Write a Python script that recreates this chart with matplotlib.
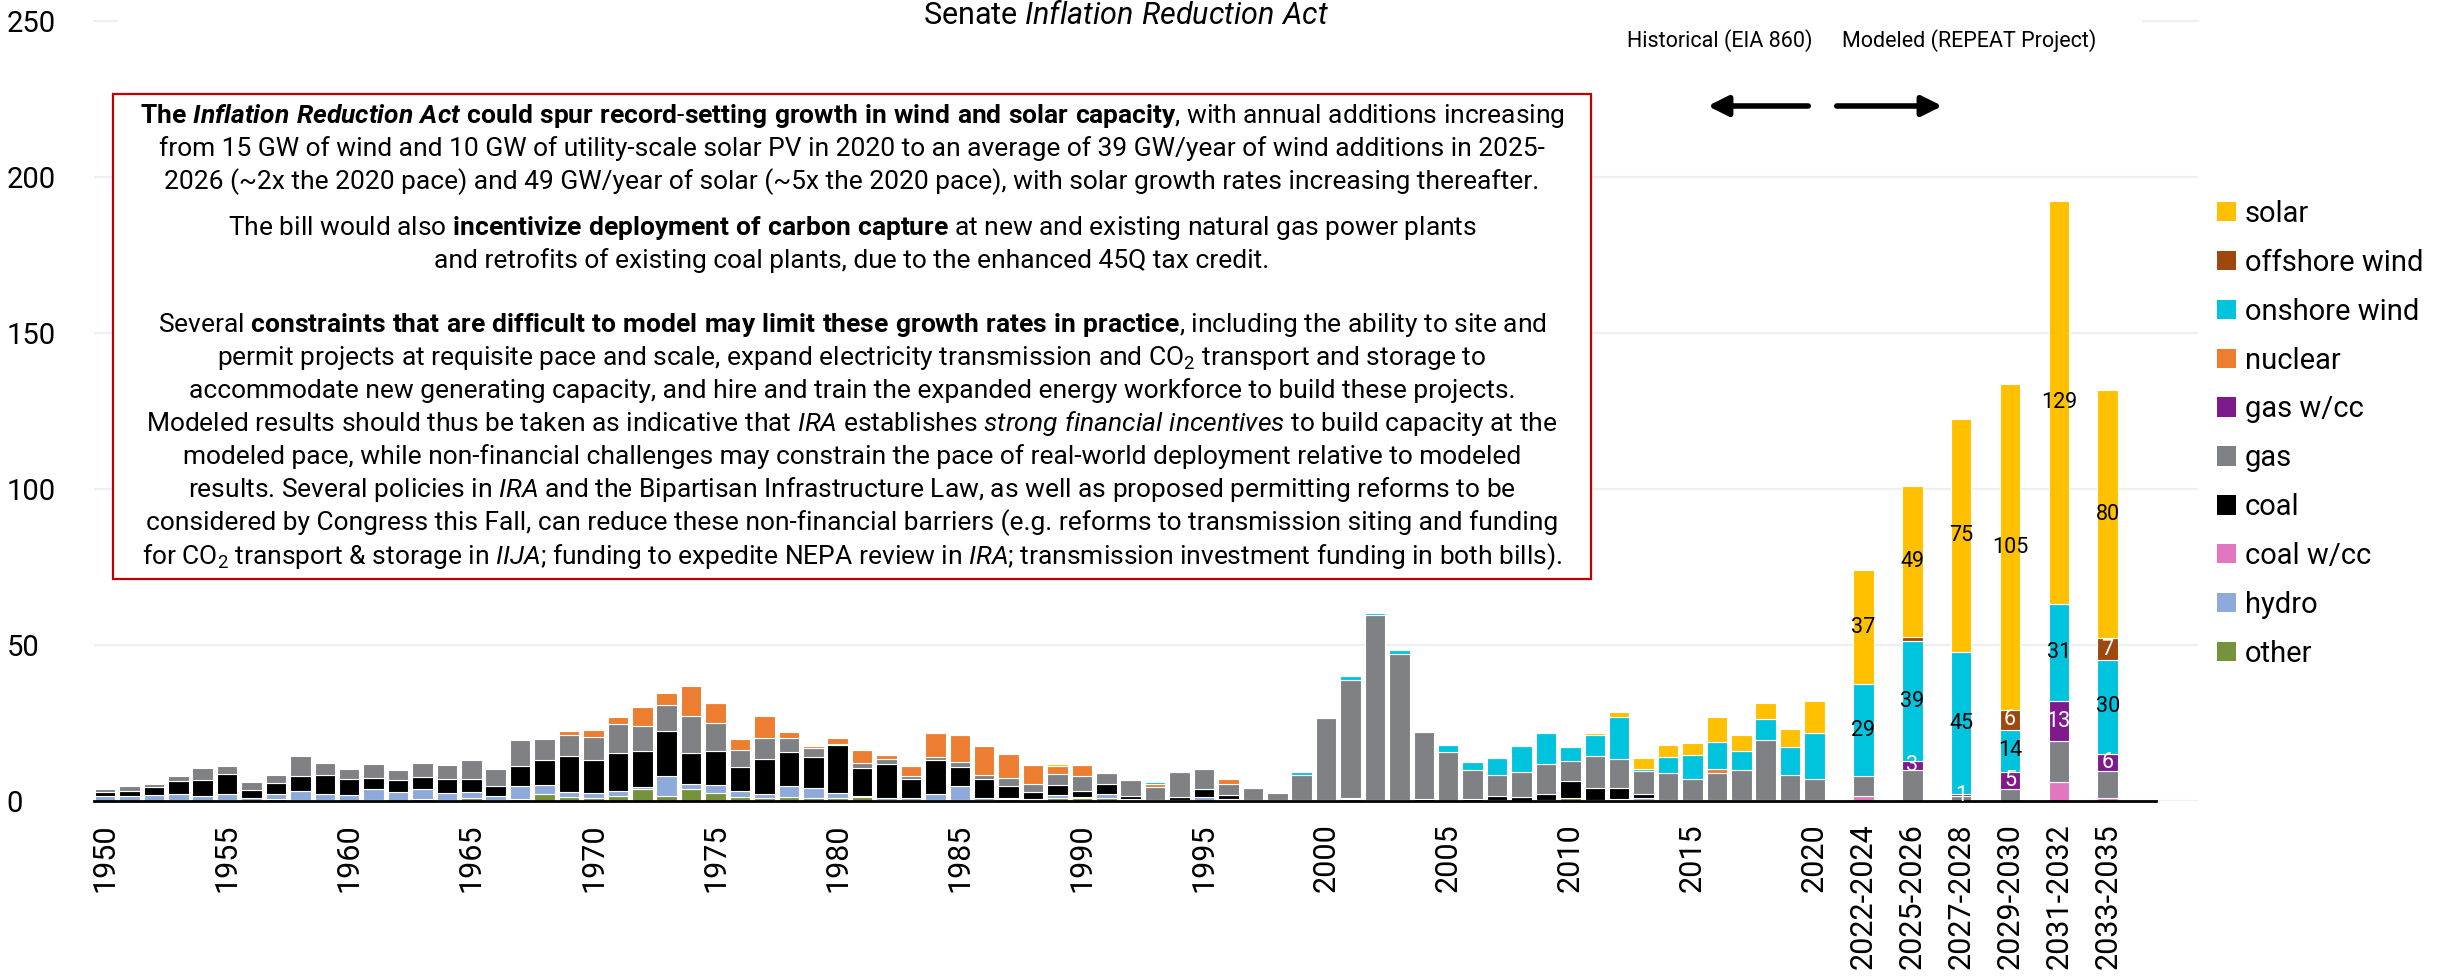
import numpy as np
import matplotlib
matplotlib.use("Agg")
import matplotlib.pyplot as plt
from matplotlib.patches import Patch, Rectangle, FancyArrowPatch

plt.rcParams['font.family'] = ['Roboto', 'DejaVu Sans']
plt.rcParams['mathtext.fontset'] = 'custom'
plt.rcParams['mathtext.rm'] = 'Roboto'
plt.rcParams['mathtext.it'] = 'Roboto:italic'
plt.rcParams['mathtext.bf'] = 'Roboto:bold'
plt.rcParams['mathtext.bfit'] = 'Roboto:italic:bold'

# ---- data: annual capacity additions (GW) ----
hist_years = list(range(1950, 2021))

other_h = [
    0.1, 0.1, 0.1, 0.2, 0.1, 0.2, 0.1, 0.7, 0.2, 0.2,
    0.1, 0.2, 0.1, 0.5, 0.2, 0.9, 0.3, 0.5, 2.1, 1.2,
    0.9, 1.5, 3.7, 1.5, 3.8, 2.5, 1.2, 0.9, 1.2, 0.9,
    0.9, 1.3, 0.4, 0.2, 0.2, 0.4, 0.3, 0.5, 0.3, 1.0,
    1.0, 1.0, 0.4, 0.2, 0.2, 0.1, 0.4, 0.1, 0.3, 0.3,
    0.4, 0.5, 0.2, 0.3, 0.1, 0.1, 0.1, 0.2, 0.1, 0.2,
    0.9, 0.4, 0.2, 0.4, 0.1, 0.1, 0.1, 0.1, 0.1, 0.1,
    0.1]
hydro_h = [
    1.4, 1.4, 1.8, 2.2, 1.4, 2.0, 1.0, 1.5, 3.1, 2.0,
    1.8, 3.6, 2.7, 3.5, 2.5, 2.1, 1.3, 4.2, 3.0, 1.8,
    1.6, 1.6, 0.7, 6.4, 1.6, 2.6, 1.9, 1.4, 3.5, 3.4,
    1.6, 0.4, 0.7, 0.9, 2.0, 4.3, 0.6, 0.4, 0.4, 0.9,
    0.4, 1.3, 0.1, 0.2, 0.1, 1.1, 0.1, 0.1, 0.0, 0.0,
    0.0, 0.0, 0.1, 0.0, 0.0, 0.0, 0.0, 0.0, 0.0, 0.1,
    0.0, 0.0, 0.4, 0.6, 0.1, 0.1, 0.1, 0.1, 0.1, 0.1,
    0.3]
coal_h = [
    1.5, 1.8, 2.6, 4.0, 5.1, 6.4, 2.3, 3.5, 4.7, 6.2,
    5.0, 3.6, 3.8, 3.8, 4.5, 4.1, 3.3, 6.6, 8.2, 11.3,
    10.6, 12.2, 11.7, 14.6, 10.1, 10.8, 7.8, 11.1, 10.9, 9.8,
    15.5, 8.9, 10.7, 6.1, 11.1, 6.1, 6.1, 4.0, 2.1, 3.2,
    1.9, 3.3, 1.1, 0.0, 1.1, 2.6, 1.3, 0.0, 0.0, 0.0,
    0.0, 0.4, 0.0, 0.0, 0.4, 0.0, 0.4, 1.3, 1.3, 2.1,
    5.5, 3.8, 3.5, 1.4, 0.0, 0.0, 0.0, 0.0, 0.0, 0.0,
    0.0]
gas_h = [
    1.0, 1.4, 1.1, 1.7, 4.1, 2.6, 2.7, 2.5, 6.3, 3.8,
    3.5, 4.6, 3.3, 4.4, 4.3, 6.2, 5.2, 8.3, 6.7, 6.7,
    7.5, 9.4, 7.8, 8.2, 11.6, 9.0, 5.4, 6.8, 4.6, 2.9,
    0.2, 1.6, 1.7, 0.7, 0.7, 1.8, 1.4, 2.5, 2.7, 3.7,
    4.7, 3.3, 5.2, 4.2, 7.9, 6.4, 3.8, 4.0, 2.2, 8.1,
    26.1, 37.8, 59.2, 46.7, 21.5, 15.5, 9.4, 6.9, 8.0, 9.4,
    6.4, 10.1, 9.5, 7.1, 8.9, 6.7, 8.8, 9.7, 19.2, 8.1,
    6.7]
nuclear_h = [
    0.0, 0.0, 0.0, 0.0, 0.0, 0.0, 0.0, 0.0, 0.0, 0.0,
    0.0, 0.0, 0.0, 0.0, 0.0, 0.0, 0.0, 0.0, 0.0, 1.3,
    2.0, 2.1, 6.1, 3.8, 9.7, 6.5, 3.6, 7.1, 2.0, 0.7,
    2.0, 4.2, 1.1, 3.4, 7.9, 8.4, 9.2, 7.7, 5.9, 2.5,
    3.4, 0.0, 0.0, 1.0, 0.0, 0.0, 1.4, 0.0, 0.0, 0.0,
    0.0, 0.0, 0.0, 0.0, 0.0, 0.0, 0.0, 0.0, 0.0, 0.0,
    0.0, 0.0, 0.0, 0.0, 0.0, 0.0, 1.2, 0.0, 0.0, 0.0,
    0.0]
wind_h = [
    0.0, 0.0, 0.0, 0.0, 0.0, 0.0, 0.0, 0.0, 0.0, 0.0,
    0.0, 0.0, 0.0, 0.0, 0.0, 0.0, 0.0, 0.0, 0.0, 0.0,
    0.0, 0.0, 0.0, 0.0, 0.0, 0.1, 0.0, 0.0, 0.0, 0.0,
    0.0, 0.3, 0.3, 0.3, 0.3, 0.4, 0.2, 0.2, 0.0, 0.0,
    0.0, 0.3, 0.2, 0.4, 0.3, 0.2, 0.0, 0.2, 0.0, 0.8,
    0.2, 1.5, 0.8, 1.5, 0.4, 2.2, 2.5, 5.3, 8.3, 9.9,
    4.6, 6.7, 13.3, 0.9, 5.0, 8.0, 8.6, 6.1, 6.9, 9.1,
    14.7]
solar_h = [
    0.0, 0.0, 0.0, 0.0, 0.0, 0.0, 0.0, 0.0, 0.0, 0.0,
    0.0, 0.0, 0.0, 0.0, 0.0, 0.0, 0.0, 0.0, 0.0, 0.0,
    0.0, 0.0, 0.0, 0.0, 0.0, 0.0, 0.0, 0.0, 0.0, 0.0,
    0.0, 0.0, 0.0, 0.0, 0.1, 0.2, 0.3, 0.2, 0.3, 0.4,
    0.4, 0.0, 0.0, 0.0, 0.0, 0.0, 0.0, 0.0, 0.2, 0.2,
    0.0, 0.2, 0.2, 0.2, 0.0, 0.2, 0.2, 0.2, 0.2, 0.2,
    0.3, 0.9, 1.7, 3.5, 3.8, 3.7, 8.0, 5.1, 5.0, 5.7,
    10.3]

model_periods = ['2022-2024', '2025-2026', '2027-2028', '2029-2030', '2031-2032', '2033-2035']
coal_cc_m = [1.6, 0.0, 0.0, 0.0, 6.1, 0.9]
gas_m = [6.4, 9.8, 1.5, 4.0, 13.0, 8.6]
gas_cc_m = [0.0, 2.9, 0.8, 5.3, 12.9, 5.6]
wind_m = [29.4, 38.6, 45.3, 13.6, 31.0, 30.2]
offshore_m = [0.0, 1.2, 0.0, 6.2, 0.0, 6.8]
solar_m = [36.7, 48.6, 74.8, 104.6, 129.4, 79.7]

# stacking order, bottom to top
series = ['other', 'hydro', 'coal w/cc', 'coal', 'gas', 'gas w/cc',
          'nuclear', 'onshore wind', 'offshore wind', 'solar']
colors = {
    'solar': '#FFC000',
    'offshore wind': '#9E480E',
    'onshore wind': '#00C4DE',
    'nuclear': '#ED7D31',
    'gas w/cc': '#7F1A8D',
    'gas': '#808184',
    'coal': '#000000',
    'coal w/cc': '#E277C0',
    'hydro': '#8EAADB',
    'other': '#76933C',
}
# modeled-bar labels: min value to show, text colour
label_rules = {
    'solar': (1, 'black'),
    'onshore wind': (1, 'black'),
    'offshore wind': (2, 'white'),
    'gas w/cc': (0.5, 'white'),
}

n_h = len(hist_years)
n_m = len(model_periods)
zeros_h = [0.0] * n_h
zeros_m = [0.0] * n_m
values = {
    'other': other_h + zeros_m,
    'hydro': hydro_h + zeros_m,
    'coal w/cc': zeros_h + coal_cc_m,
    'coal': coal_h + zeros_m,
    'gas': gas_h + gas_m,
    'gas w/cc': zeros_h + gas_cc_m,
    'nuclear': nuclear_h + zeros_m,
    'onshore wind': wind_h + wind_m,
    'offshore wind': zeros_h + offshore_m,
    'solar': solar_h + solar_m,
}

x = np.concatenate([np.arange(n_h), n_h + 1 + 2 * np.arange(n_m)])
is_model = np.array([False] * n_h + [True] * n_m)

W, H = 2453, 977


def fx(px):
    return px / W


def fy(py):
    return 1 - py / H


fig = plt.figure(figsize=(W / 100, H / 100), dpi=100)
ax = fig.add_axes([fx(94), fy(801), fx(2198) - fx(94), fy(21) - fy(801)])

bottom = np.zeros(len(x))
for name in series:
    v = np.array(values[name])
    m = v > 0
    ax.bar(x[m], v[m], width=0.84, bottom=bottom[m], color=colors[name],
           edgecolor='white', linewidth=0.8, zorder=2)
    if name in label_rules:
        vmin, tc = label_rules[name]
        for xi, b, vi, mod in zip(x, bottom, v, is_model):
            if mod and vi >= vmin:
                ax.text(xi, b + vi / 2, f"{round(vi)}", ha='center', va='center',
                        fontsize=15.5, color=tc, zorder=3)
    bottom += v

ax.set_xlim(-0.45, 85.7)
ax.set_ylim(0, 250)

ax.set_yticks(range(0, 251, 50))
ax.tick_params(axis='y', length=0, pad=63, labelsize=21)
for lab in ax.get_yticklabels():
    lab.set_horizontalalignment('left')
ax.yaxis.grid(True, color='#EFEFEF', linewidth=1.6, zorder=0)
ax.set_axisbelow(True)
ax.get_ygridlines()[-1].set_visible(False)
ax.axhline(250, xmin=0, xmax=0.011, color='#EFEFEF', lw=1.6, clip_on=False)
ax.axhline(250, xmin=0.974, xmax=1, color='#EFEFEF', lw=1.6, clip_on=False)

tick_pos = list(range(0, n_h, 5)) + list(x[is_model])
tick_lab = [str(hist_years[i]) for i in range(0, n_h, 5)] + model_periods
ax.set_xticks(tick_pos)
ax.set_xticklabels(tick_lab, rotation=90)
ax.tick_params(axis='x', length=0, pad=16, labelsize=22)

for s in ['top', 'right', 'left']:
    ax.spines[s].set_visible(False)
ax.spines['bottom'].set_bounds(-0.45, 84)
ax.spines['bottom'].set_linewidth(2)
ax.spines['bottom'].set_color('black')

handles = [Patch(facecolor=colors[n]) for n in series[::-1]]
ax.legend(handles, series[::-1], loc='upper left',
          bbox_to_anchor=(fx(2217), fy(200)), bbox_transform=fig.transFigure,
          frameon=False, fontsize=21, handlelength=0.65, handleheight=0.65,
          handletextpad=0.3, labelspacing=0.715, borderpad=0, borderaxespad=0)

# title at the very top
fig.text(fx(1126), fy(24), r"Senate $\mathit{Inflation\ Reduction\ Act}$",
         ha='center', va='baseline', fontsize=22)

# historical / modeled markers
fig.text(fx(1720), fy(41), "Historical (EIA 860)", ha='center', va='center', fontsize=15.5)
fig.text(fx(1969), fy(41), "Modeled (REPEAT Project)", ha='center', va='center', fontsize=15.5)
for a, b in [((1811, 106), (1705, 106)), ((1834, 106), (1945, 106))]:
    fig.add_artist(FancyArrowPatch((fx(a[0]), fy(a[1])), (fx(b[0]), fy(b[1])),
                                   transform=fig.transFigure, arrowstyle='-|>',
                                   mutation_scale=30, lw=4, color='black'))

# annotation box
fig.add_artist(Rectangle((fx(113), fy(579)), fx(1591) - fx(113), fy(94) - fy(579),
                         transform=fig.transFigure, facecolor='white',
                         edgecolor='#C00000', lw=1.6, zorder=1))

box_lines = [
    (116, r"$\mathbf{The\ }\mathbfit{Inflation\ Reduction\ Act}\mathbf{\ could\ spur\ record}$-$\mathbf{setting\ growth\ in\ wind\ and\ solar\ capacity}$, with annual additions increasing"),
    (149, "from 15 GW of wind and 10 GW of utility-scale solar PV in 2020 to an average of 39 GW/year of wind additions in 2025-"),
    (182, "2026 (~2x the 2020 pace) and 49 GW/year of solar (~5x the 2020 pace), with solar growth rates increasing thereafter."),
    (228, r"The bill would also $\mathbf{incentivize\ deployment\ of\ carbon\ capture}$ at new and existing natural gas power plants"),
    (261, "and retrofits of existing coal plants, due to the enhanced 45Q tax credit."),
    (325, r"Several $\mathbf{constraints\ that\ are\ difficult\ to\ model\ may\ limit\ these\ growth\ rates\ in\ practice}$, including the ability to site and"),
    (358, r"permit projects at requisite pace and scale, expand electricity transmission and CO$_2$ transport and storage to"),
    (391, "accommodate new generating capacity, and hire and train the expanded energy workforce to build these projects."),
    (424, r"Modeled results should thus be taken as indicative that $\mathit{IRA}$ establishes $\mathit{strong\ financial\ incentives}$ to build capacity at the"),
    (457, "modeled pace, while non-financial challenges may constrain the pace of real-world deployment relative to modeled"),
    (490, r"results. Several policies in $\mathit{IRA}$ and the Bipartisan Infrastructure Law, as well as proposed permitting reforms to be"),
    (523, "considered by Congress this Fall, can reduce these non-financial barriers (e.g. reforms to transmission siting and funding"),
    (557, r"for CO$_2$ transport & storage in $\mathit{IIJA}$; funding to expedite NEPA review in $\mathit{IRA}$; transmission investment funding in both bills)."),
]
for py, s in box_lines:
    fig.text(fx(852), fy(py), s, ha='center', va='center', fontsize=19, zorder=3)

fig.savefig("out.png", dpi=100, facecolor='white')
